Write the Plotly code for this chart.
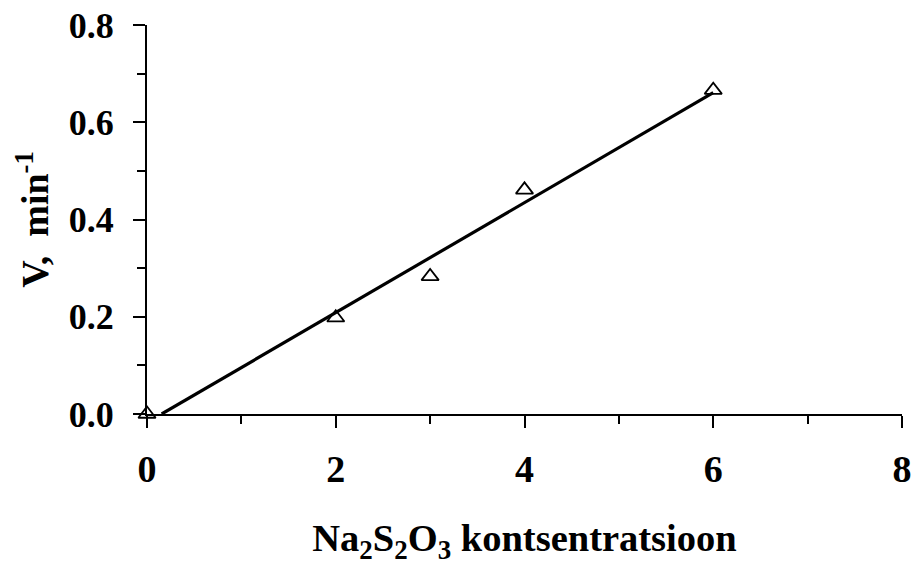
import numpy as np
import plotly.graph_objects as go

conc = [0, 2, 3, 4, 6]
rate = [0.0, 0.198, 0.283, 0.461, 0.666]

x_ticks = [0, 2, 4, 6, 8]
y_ticks = [0.0, 0.2, 0.4, 0.6, 0.8]

slope, intercept = np.polyfit(conc, rate, 1)
x_start = -intercept / slope
fit_x = [x_start, max(conc)]
fit_y = [slope * v + intercept for v in fit_x]

FONT = "Liberation Serif"

fig = go.Figure()
fig.add_trace(go.Scatter(x=fit_x, y=fit_y, mode="lines",
                         line=dict(color="black", width=3.2), cliponaxis=False,
                         showlegend=False))
fig.add_trace(go.Scatter(x=conc, y=rate, mode="markers",
                         marker=dict(symbol="triangle-up-open", size=15, color="black",
                                     line=dict(width=1.8, color="black")),
                         cliponaxis=False, showlegend=False))

fig.update_layout(
    width=912, height=565,
    margin=dict(l=147, r=10, t=25, b=151),
    paper_bgcolor="white", plot_bgcolor="white",
    font=dict(family=FONT, color="black"),
)
fig.update_xaxes(
    automargin=False,
    range=[0, 8], tickvals=x_ticks, ticktext=[f"<b>{v}</b>" for v in x_ticks],
    showline=True, linecolor="black", linewidth=2,
    ticks="outside", ticklen=12, tickwidth=2, tickcolor="black",
    minor=dict(dtick=1, ticks="outside", ticklen=8, tickwidth=2, tickcolor="black", showgrid=False),
    showgrid=False, zeroline=False,
    tickfont=dict(family=FONT, size=38, color="black"),
    ticklabelstandoff=8,
    title=dict(text="<b>Na<sub>2</sub>S<sub>2</sub>O<sub>3</sub> kontsentratsioon</b>",
               font=dict(family=FONT, size=38.5, color="black"), standoff=40),
)
fig.update_yaxes(
    automargin=False,
    range=[0, 0.8], tickvals=y_ticks, ticktext=[f"<b>{v:.1f}</b>" for v in y_ticks],
    showline=True, linecolor="black", linewidth=2,
    ticks="outside", ticklen=12, tickwidth=2, tickcolor="black",
    minor=dict(dtick=0.1, ticks="outside", ticklen=8, tickwidth=2, tickcolor="black", showgrid=False),
    showgrid=False, zeroline=False,
    tickfont=dict(family=FONT, size=36, color="black"),
    ticklabelstandoff=12,
    title=dict(text="<b>V,  min<sup>-1</sup></b>",
               font=dict(family=FONT, size=38, color="black"), standoff=8),
)

fig.write_html("out.html")
